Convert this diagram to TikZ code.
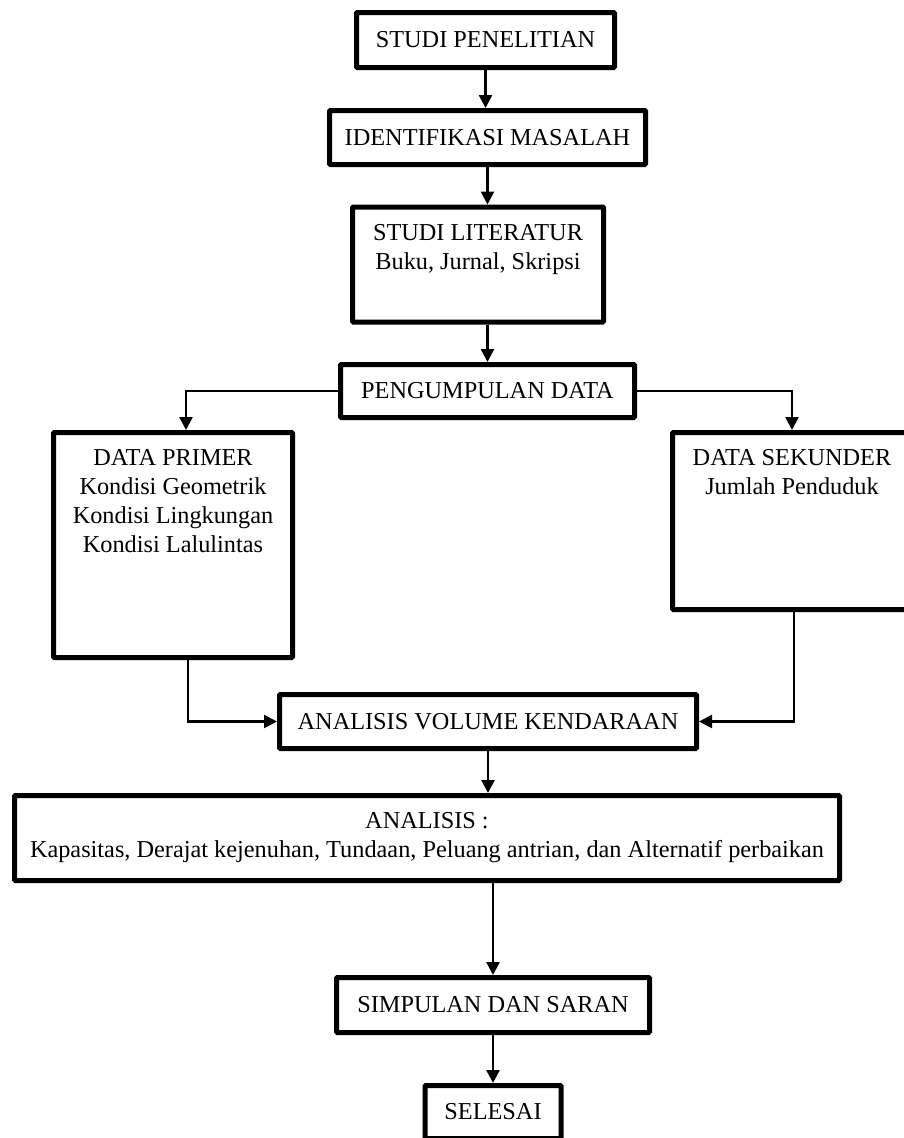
\documentclass[tikz,border=0pt]{standalone}
\usepackage{fontspec}
\setmainfont{Liberation Serif}
\usetikzlibrary{positioning, arrows.meta}

% text sitting at the top of a tall box
\newcommand{\toptext}[3]{\parbox[c][#1][t]{#2}{\centering #3}}

\begin{document}
\begin{tikzpicture}[
    x=1pt, y=-1pt,
    box/.style={
      draw, line width=5pt, rounded corners=1pt, align=center,
      inner sep=0pt, font=\fontsize{24.3}{29}\selectfont
    },
    tallbox/.style={
      box, inner xsep=6pt, inner ysep=17pt
    },
    arr/.style={
      -{Triangle[length=13pt, width=13pt]}, line width=2.5pt
    },
  ]
    \useasboundingbox (0,0) rectangle (904,1138);

    % main column
    \node [box, minimum width=258pt, minimum height=55pt] (studi) at (485.5,40) {STUDI PENELITIAN};
    \node [box, minimum width=316pt, minimum height=54pt, below=38pt of studi, xshift=2pt] (identifikasi) {IDENTIFIKASI MASALAH};
    \node [tallbox, minimum width=251pt] (literatur) at (478,264.5) {\toptext{81pt}{238pt}{STUDI LITERATUR\\Buku, Jurnal, Skripsi}};
    \node [box, minimum width=294pt, minimum height=53pt] (pengumpulan) at (487.5,391) {PENGUMPULAN DATA};

    % data branches
    \node [tallbox, minimum width=239pt] (primer) at (173,545) {\toptext{191pt}{226pt}{DATA PRIMER\\Kondisi Geometrik\\Kondisi Lingkungan\\Kondisi Lalulintas}};
    \node [tallbox, minimum width=239pt] (sekunder) at (792,521) {\toptext{143pt}{226pt}{DATA SEKUNDER\\Jumlah Penduduk}};

    % analysis and end
    \node [box, minimum width=417pt, minimum height=54pt] (volume) at (488,721.5) {ANALISIS VOLUME KENDARAAN};
    \node [box, minimum width=825pt, minimum height=85pt] (analisis) at (427,838) {ANALISIS :\\Kapasitas, Derajat kejenuhan, Tundaan, Peluang antrian, dan Alternatif perbaikan};
    \node [box, minimum width=313pt, minimum height=55pt] (simpulan) at (493,1005) {SIMPULAN DAN SARAN};
    \node [box, minimum width=136pt, minimum height=53pt, below=48pt of simpulan] (selesai) {SELESAI};

    % arrows
    \draw [arr] (studi.south) -- (studi.south |- identifikasi.north);
    \draw [arr] (identifikasi.south) -- (identifikasi.south |- literatur.north);
    \draw [arr] (pengumpulan.north |- literatur.south) -- (pengumpulan.north);
    \draw [arr] (pengumpulan.west) -| ([xshift=13pt]primer.north);
    \draw [arr] (pengumpulan.east) -| (sekunder.north);
    \draw [arr] ([xshift=15pt]primer.south) |- (volume.west);
    \draw [arr] ([xshift=2pt]sekunder.south) |- (volume.east);
    \draw [arr] (volume.south) -- (volume.south |- analisis.north);
    \draw [arr] (simpulan.north |- analisis.south) -- (simpulan.north);
    \draw [arr] (simpulan.south) -- (simpulan.south |- selesai.north);

  \end{tikzpicture}
\end{document}
